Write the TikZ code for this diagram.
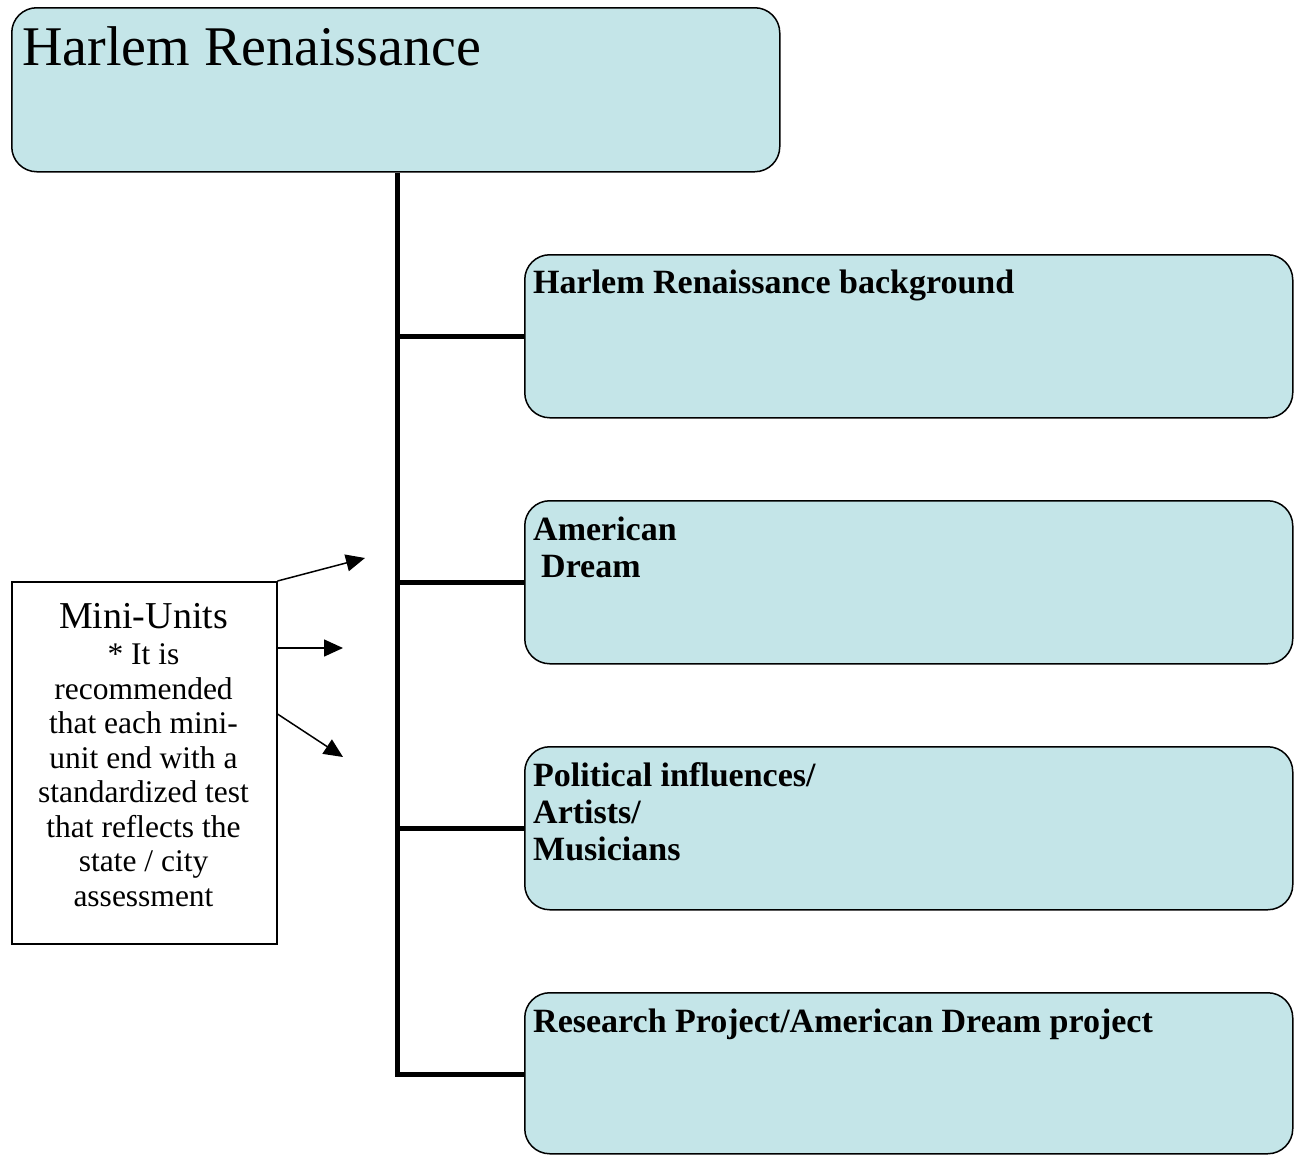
\documentclass[tikz,border=0pt]{standalone}
\usepackage{fontspec}
\setmainfont{Liberation Serif}
\usetikzlibrary{arrows.meta}
\definecolor{boxfill}{RGB}{196,229,232}
\begin{document}
\begin{tikzpicture}[x=1pt,y=-1pt,
  unitbox/.style={draw=black, line width=1.5pt, fill=boxfill, rounded corners=25pt,
    minimum width=768pt, minimum height=163pt, inner sep=0pt, anchor=north west},
  boxtext/.style={anchor=base west, inner sep=0pt, align=left,
    font=\fontsize{34}{37}\selectfont\bfseries},
  trunkline/.style={line width=5pt},
  noteline/.style={line width=1.5pt, -{Triangle[length=19pt,width=17pt]}}]
\useasboundingbox (0,0) rectangle (1295,1154);

% top box
\node[unitbox, minimum height=164pt] (top) at (11,7) {};
\node[anchor=base west, inner sep=0pt, font=\fontsize{56}{60}\selectfont] (toptext) at (22,65) {Harlem Renaissance};

% unit boxes
\node[unitbox] (b1) at (524,254) {};
\node[unitbox] (b2) at (524,500) {};
\node[unitbox] (b3) at (524,746) {};
\node[unitbox, minimum height=161pt] (b4) at (524,992) {};

% multi-line nodes: base anchor is the baseline of the last line
\node[boxtext] (t1) at (533,293) {Harlem Renaissance background};
\node[boxtext] (t2) at (533,577) {American\\\hspace*{8pt}Dream};
\node[boxtext] (t3) at (533,860) {Political influences/\\Artists/\\Musicians};
\node[boxtext] (t4) at (533,1032) {Research Project/American Dream project};

% trunk and branches
\coordinate (tb) at (397,1074);
\draw[trunkline] (top.south -| tb) -- (tb) -- (b4.west |- tb);
\draw[trunkline] (b1.west -| tb) -- (b1.west);
\draw[trunkline] (b2.west -| tb) -- (b2.west);
\draw[trunkline] (b3.west -| tb) -- (b3.west);

% mini-units note
\node[draw=black, line width=1.5pt, fill=white, minimum width=265pt, minimum height=362pt,
  inner sep=0pt, anchor=north west] (mini) at (11,581) {};
\node[anchor=base, inner sep=0pt, font=\fontsize{38}{40}\selectfont] (minititle) at (143.5,628) {Mini-Units};
\node[anchor=base, inner sep=0pt, align=center, font=\fontsize{31.5}{34.5}\selectfont] (minitext) at (143.5,906)
  {* It is\\recommended\\that each mini-\\unit end with a\\standardized test\\that reflects the\\state / city\\assessment};

\coordinate (a1) at (365,558);
\coordinate (a2) at (343,648);
\coordinate (a3) at (343,757);
\draw[noteline] (mini.north east) -- (a1);
\draw[noteline] ([yshift=-67pt]mini.north east) -- (a2);
\draw[noteline] ([yshift=-133pt]mini.north east) -- (a3);
\end{tikzpicture}
\end{document}
